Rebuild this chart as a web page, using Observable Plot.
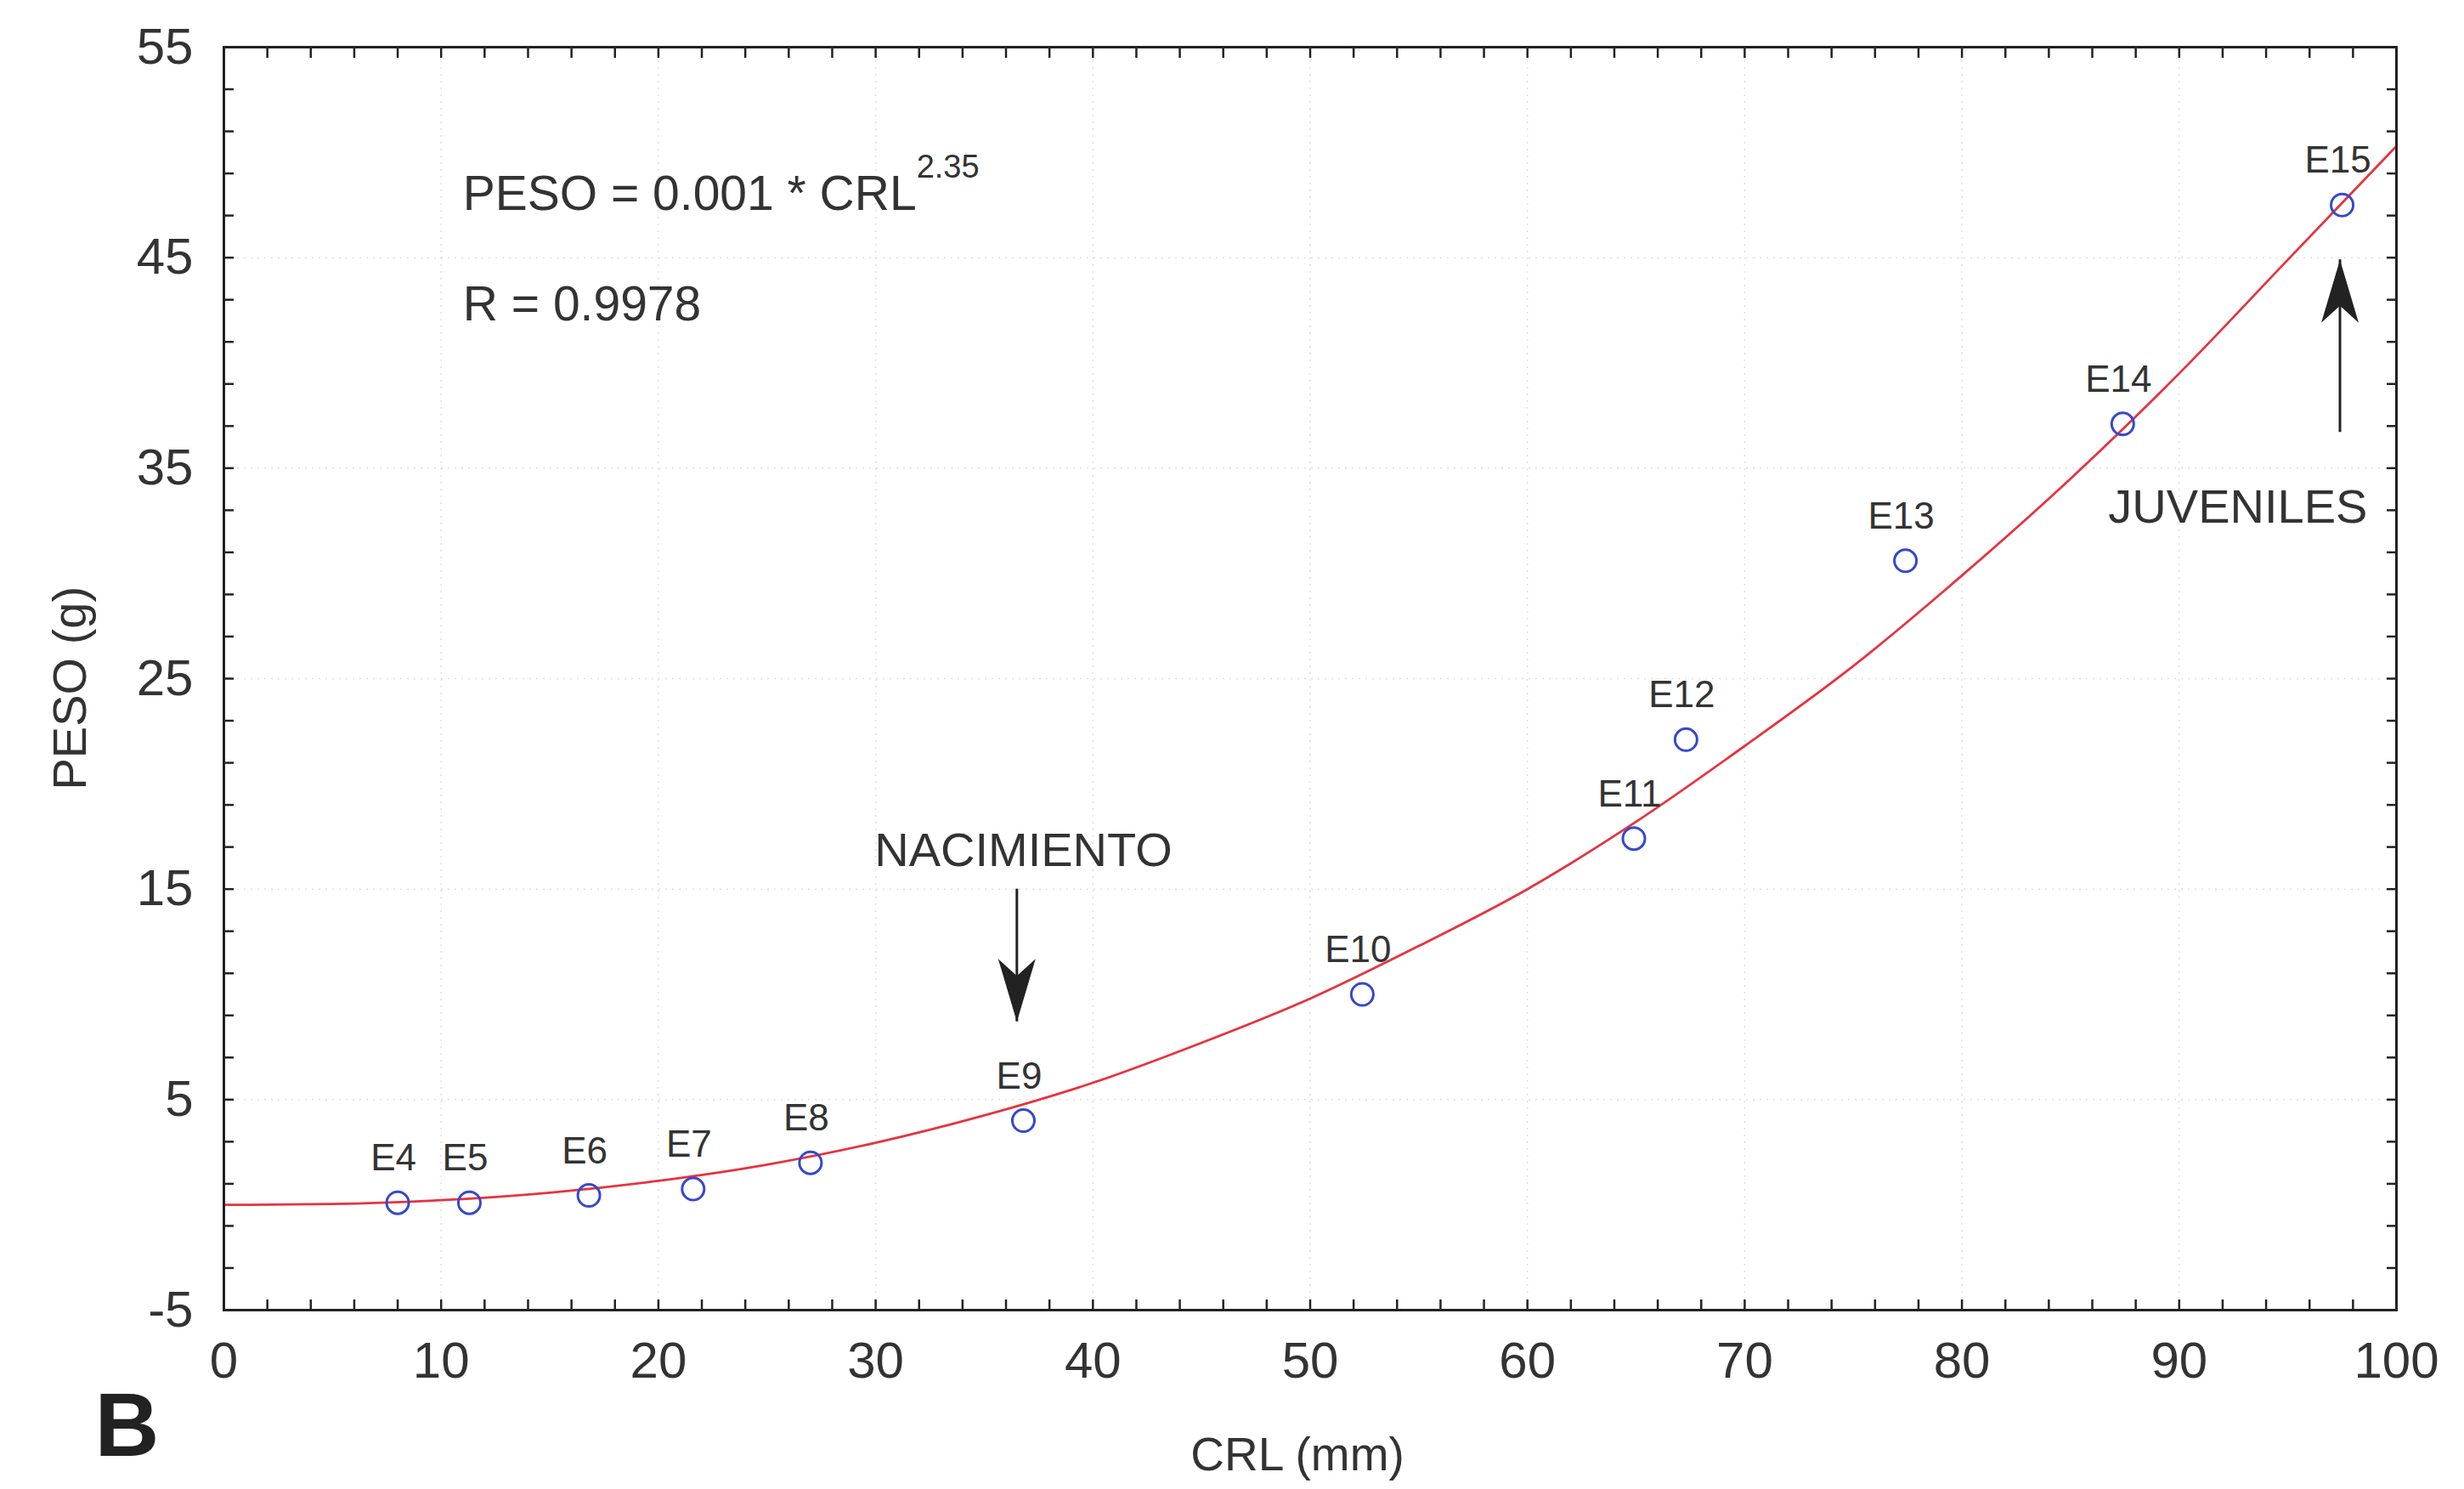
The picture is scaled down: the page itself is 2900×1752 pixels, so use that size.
<!DOCTYPE html>
<html><head><meta charset="utf-8">
<script src="https://cdn.jsdelivr.net/npm/d3@7"></script>
<script src="https://cdn.jsdelivr.net/npm/@observablehq/plot@0.6"></script>
<style>html,body{margin:0;padding:0;background:#fff;}</style>
</head><body><div id="chart"></div>
<script>
// ---- data ----
const stageLabels = ["E4","E5","E6","E7","E8","E9","E10","E11","E12","E13","E14","E15"];
const stageCRL    = [8.0, 11.3, 16.8, 21.6, 27.0, 36.8, 52.4, 64.9, 67.3, 77.4, 87.4, 97.5];
const stagePeso   = [0.1, 0.1, 0.45, 0.75, 2.0, 4.0, 10.0, 17.4, 22.1, 30.6, 37.1, 47.5];

// fitted curve
const curveCRL  = [0, 5, 10, 15, 20, 25, 30, 35, 40, 45, 50, 55, 60, 65, 70, 75, 80, 85, 90, 95, 100];
const curvePeso = [0, 0.04, 0.22, 0.58, 1.14, 1.91, 2.95, 4.25, 5.8, 7.7, 9.8, 12.3, 15.0, 18.2, 21.8, 25.6, 29.9, 34.5, 39.5, 44.9, 50.3];

// tick values
const xMajor = [0, 10, 20, 30, 40, 50, 60, 70, 80, 90, 100];
const xMinor = [0,2,4,6,8,10,12,14,16,18,20,22,24,26,28,30,32,34,36,38,40,42,44,46,48,50,52,54,56,58,60,62,64,66,68,70,72,74,76,78,80,82,84,86,88,90,92,94,96,98,100];
const yMajor = [-5, 5, 15, 25, 35, 45, 55];
const yMinor = [-5,-3,-1,1,3,5,7,9,11,13,15,17,19,21,23,25,27,29,31,33,35,37,39,41,43,45,47,49,51,53,55];

// annotations
const eqLines = ["PESO = 0.001 * CRL", "R = 0.9978"];
const eqX = [11.0, 11.0];
const eqY = [47.25, 42.0];
const eqExponent = "2.35";

const arrowLabels = ["NACIMIENTO", "JUVENILES"];
const arrowLabelX = [36.8, 92.7];
const arrowLabelY = [16.1, 32.4];
const arrowX    = [36.5, 97.4];
const arrowFrom = [15.0, 36.7];
const arrowTo   = [8.7, 44.9];

const xLabel = "CRL (mm)";
const yLabel = "PESO (g)";
const panelLetter = "B";

// ---- tables ----
const points = stageLabels.map((s, i) => ({stage: s, crl: stageCRL[i], peso: stagePeso[i]}));
const curve = curveCRL.map((x, i) => ({crl: x, peso: curvePeso[i]}));
const eq = eqLines.map((t, i) => ({t, x: eqX[i], y: eqY[i]}));
const arrows = arrowLabels.map((t, i) => ({t, lx: arrowLabelX[i], ly: arrowLabelY[i], x: arrowX[i], from: arrowFrom[i], to: arrowTo[i]}));

const headDown = {draw(ctx) { ctx.moveTo(0, 0); ctx.lineTo(-22, -74); ctx.lineTo(0, -54); ctx.lineTo(22, -74); ctx.closePath(); }};
const headUp   = {draw(ctx) { ctx.moveTo(0, 0); ctx.lineTo(-22, 74); ctx.lineTo(0, 54); ctx.lineTo(22, 74); ctx.closePath(); }};

const ink = "#333";
const narrow = "'Liberation Sans Narrow', 'Arial Narrow', 'Liberation Sans', Arial, sans-serif";

const chart = Plot.plot({
  width: 2900,
  height: 1752,
  marginLeft: 263,
  marginRight: 80,
  marginTop: 55,
  marginBottom: 211,
  x: {domain: [0, 100]},
  y: {domain: [-5, 55]},
  style: {fontFamily: "'Liberation Sans', Arial, sans-serif", fontSize: "56px", color: ink, background: "#fff"},
  marks: [
    Plot.gridX(xMajor.slice(1, -1), {stroke: "#999", strokeOpacity: 0.3, strokeWidth: 1.5, strokeDasharray: "2,6"}),
    Plot.gridY(yMajor.slice(1, -1), {stroke: "#999", strokeOpacity: 0.3, strokeWidth: 1.5, strokeDasharray: "2,6"}),
    // inward ticks on all four sides
    Plot.axisX(xMinor, {anchor: "bottom", tickSize: -12, strokeWidth: 2.5, stroke: "#222", tickFormat: () => "", label: null}),
    Plot.axisX(xMinor, {anchor: "top", tickSize: -12, strokeWidth: 2.5, stroke: "#222", tickFormat: () => "", label: null}),
    Plot.axisY(yMinor, {anchor: "left", tickSize: -12, strokeWidth: 2.5, stroke: "#222", tickFormat: () => "", label: null}),
    Plot.axisY(yMinor, {anchor: "right", tickSize: -12, strokeWidth: 2.5, stroke: "#222", tickFormat: () => "", label: null}),
    // labels
    Plot.axisX(xMajor, {anchor: "bottom", tickSize: 0, tickPadding: 37, fontSize: 60, fontFamily: narrow, fill: ink, tickFormat: d => String(d), label: null}),
    Plot.axisY(yMajor, {anchor: "left", tickSize: 0, tickPadding: 36, fontSize: 60, fontFamily: narrow, fill: ink, tickFormat: d => String(d), label: null}),
    // fitted curve
    Plot.line(curve, {x: "crl", y: "peso", stroke: "#e8323f", strokeWidth: 2.8, curve: "monotone-x"}),
    // observations
    Plot.dot(points, {x: "crl", y: "peso", r: 13, stroke: "#3548cc", strokeWidth: 3, fill: "none"}),
    Plot.text(points, {x: "crl", y: "peso", text: "stage", dx: -5, dy: -38, lineAnchor: "bottom", fontSize: 44, fill: ink}),
    // equation
    Plot.text(eq, {x: "x", y: "y", text: "t", textAnchor: "start", lineAnchor: "bottom", fontSize: 57, fill: ink}),
    // arrows
    Plot.ruleX(arrows, {x: "x", y1: "from", y2: "to", stroke: "#222", strokeWidth: 3}),
    Plot.dot(arrows.filter(d => d.to < d.from), {x: "x", y: "to", symbol: headDown, fill: "#222", stroke: "none"}),
    Plot.dot(arrows.filter(d => d.to > d.from), {x: "x", y: "to", symbol: headUp, fill: "#222", stroke: "none"}),
    Plot.text(arrows, {x: "lx", y: "ly", text: "t", lineAnchor: "bottom", fontSize: 56, fill: ink}),
    // axis titles & panel letter
    Plot.text([xLabel], {text: d => d, frameAnchor: "bottom", dx: -15, dy: 188, fontSize: 55, fill: ink}),
    Plot.text([yLabel], {text: d => d, frameAnchor: "left", rotate: -90, dx: -180, dy: 131, fontSize: 56, fill: ink}),
    Plot.text([panelLetter], {text: d => d, frameAnchor: "bottom-left", dx: -152, dy: 171, fontSize: 105, fontWeight: "bold", fill: "#222"}),
    Plot.frame({stroke: "#222", strokeWidth: 3})
  ]
});

// superscript exponent on the equation
chart.querySelectorAll("text").forEach(t => {
  if (t.textContent === eqLines[0]) {
    const ts = document.createElementNS("http://www.w3.org/2000/svg", "tspan");
    ts.setAttribute("dy", "-38");
    ts.setAttribute("font-size", "38");
    ts.textContent = eqExponent;
    t.appendChild(ts);
  }
});

document.getElementById("chart").appendChild(chart);
</script></body></html>
